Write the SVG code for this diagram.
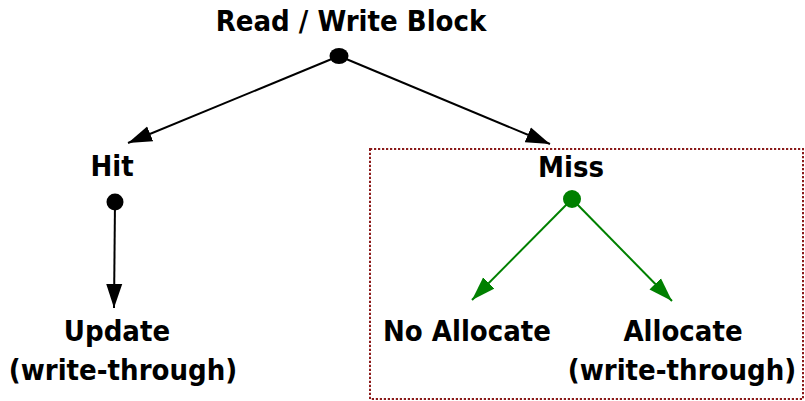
<svg xmlns="http://www.w3.org/2000/svg" width="805" height="401" viewBox="0 0 805 401">
  <style>
    .label { font-family: "DejaVu Sans Condensed", "DejaVu Sans", Verdana, sans-serif; font-stretch: condensed; font-weight: bold; font-size: 29px; fill: #000; text-anchor: middle; }
    .edge { fill: none; stroke-width: 2; }
    .black { stroke: #000; }
    .green { stroke: #008000; }
  </style>
  <defs>
    <marker id="arrow-black" markerUnits="userSpaceOnUse" markerWidth="26" markerHeight="18" refX="24" refY="9" orient="auto">
      <path d="M0,1 L24,9 L0,17 Z" fill="#000"/>
    </marker>
    <marker id="arrow-green" markerUnits="userSpaceOnUse" markerWidth="26" markerHeight="18" refX="24" refY="9" orient="auto">
      <path d="M0,1 L24,9 L0,17 Z" fill="#008000"/>
    </marker>
  </defs>

  <!-- Miss region outline -->
  <rect id="miss-region" x="370" y="149" width="433" height="250" fill="none" stroke="#8B1A1A" stroke-width="2" stroke-dasharray="2.2 1.8"/>

  <!-- connectors -->
  <g id="connectors">
    <line class="edge black" x1="339" y1="56" x2="128" y2="143" marker-end="url(#arrow-black)"/>
    <line class="edge black" x1="339" y1="56" x2="550" y2="144" marker-end="url(#arrow-black)"/>
    <line class="edge black" x1="115" y1="202" x2="114" y2="308" marker-end="url(#arrow-black)"/>
    <line class="edge green" x1="572" y1="199" x2="472" y2="300" marker-end="url(#arrow-green)"/>
    <line class="edge green" x1="572" y1="199" x2="672" y2="301" marker-end="url(#arrow-green)"/>
  </g>

  <g id="read-write-block">
    <text class="label" x="351" y="31">Read / Write Block</text>
    <ellipse cx="339" cy="56" rx="9.5" ry="8" fill="#000"/>
  </g>

  <g id="hit">
    <text class="label" x="112" y="176">Hit</text>
    <circle cx="115" cy="202" r="8.5" fill="#000"/>
  </g>

  <g id="miss">
    <text class="label" x="571" y="177">Miss</text>
    <circle cx="572" cy="199" r="9" fill="#008000"/>
  </g>

  <g id="update">
    <text class="label" x="117" y="341">Update</text>
    <text class="label" x="123" y="380">(write-through)</text>
  </g>

  <g id="no-allocate">
    <text class="label" x="467" y="341">No Allocate</text>
  </g>

  <g id="allocate">
    <text class="label" x="683" y="341">Allocate</text>
    <text class="label" x="682" y="380">(write-through)</text>
  </g>
</svg>
